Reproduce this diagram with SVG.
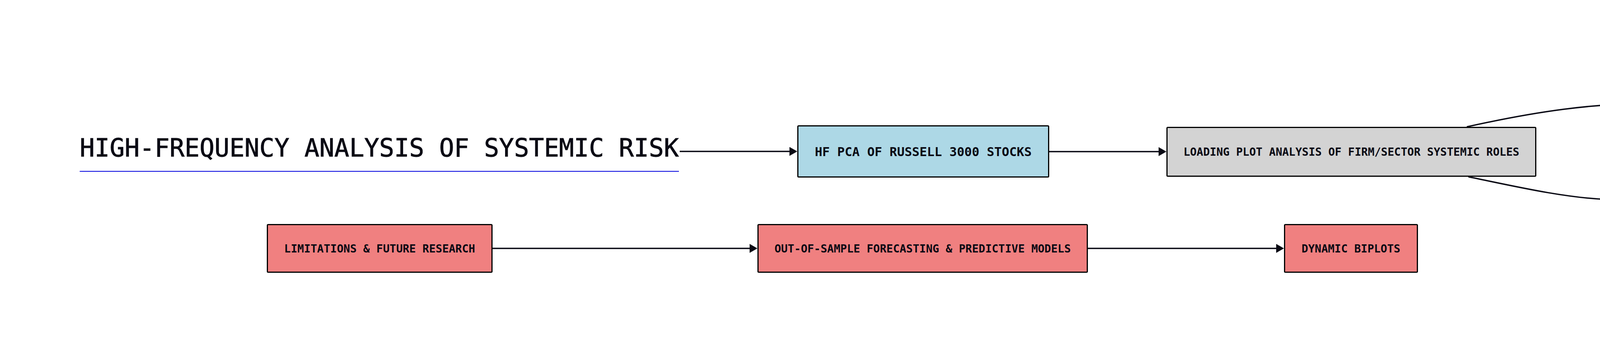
<svg xmlns="http://www.w3.org/2000/svg" width="6006" height="902" viewBox="0 0 6006 902">
<style>
.node rect{stroke:#000;stroke-width:3}
.node text{font-family:"DejaVu Sans Mono","Liberation Mono",monospace;font-weight:bold;font-size:28px;fill:#0a0a14;text-anchor:middle}
.edge{fill:none;stroke:#0a0a14;stroke-width:3.5}
.blue rect{fill:#ADD8E6}
.grey rect{fill:#D3D3D3}
.green rect{fill:#90EE90}
.red rect{fill:#F08080}
</style>
<defs>
<marker id="ah" markerUnits="userSpaceOnUse" markerWidth="20" markerHeight="23" refX="0" refY="11.5" orient="auto">
<path d="M0,0 L20,11.5 L0,23 Z" fill="#0a0a14"/>
</marker>
</defs>
<rect x="0" y="0" width="6006" height="902" fill="#fff"/>
<g id="title">
<text x="204" y="401" font-family="DejaVu Sans Mono, Liberation Mono, monospace" font-size="63.7" fill="#0a0a14" stroke="#0a0a14" stroke-width="1">HIGH-FREQUENCY ANALYSIS OF SYSTEMIC RISK</text>
<line x1="204" y1="439" x2="1738" y2="439" stroke="#0000dd" stroke-width="2"/>
</g>
<g id="connectors">
<path class="edge" marker-end="url(#ah)" d="M1740,388 L2021,388"/>
<path class="edge" marker-end="url(#ah)" d="M2686,388.5 L2966,388.5"/>
<path class="edge" marker-end="url(#ah)" d="M3755,325 C3935,285 4078,265 4228,265"/>
<path class="edge" marker-end="url(#ah)" d="M3759,453 C3876,477 4000,506 4111,511"/>
<path class="edge" marker-end="url(#ah)" d="M4748,447 C4848,419 4954,388 5055,388"/>
<path class="edge" marker-end="url(#ah)" d="M4748,576 C4918,620 5071,634 5223,634"/>
<path class="edge" marker-end="url(#ah)" d="M1261,636.5 L1919,636.5"/>
<path class="edge" marker-end="url(#ah)" d="M2785,636.5 L3267,636.5"/>
</g>
<g id="n_hfpca" class="node blue">
<rect x="2042.5" y="322.5" width="642" height="131" rx="2"/>
<text x="2363.5" y="399.5" style="font-size:31.8px">HF PCA OF RUSSELL 3000 STOCKS</text>
</g>
<g id="n_loading" class="node grey">
<rect x="2987.5" y="326.5" width="944" height="125" rx="2"/>
<text x="3459.5" y="399">LOADING PLOT ANALYSIS OF FIRM/SECTOR SYSTEMIC ROLES</text>
</g>
<g id="n_firm" class="node green">
<rect x="4249.5" y="202" width="506" height="124.5" rx="2"/>
<text x="4502.5" y="274.5">FIRM/SECTOR SYSTEMIC ROLE</text>
</g>
<g id="n_increased" class="node green">
<rect x="4132.5" y="448.5" width="743" height="125" rx="2"/>
<text x="4504" y="521">INCREASED COMOVEMENT &amp; FINANCIAL STRESS</text>
</g>
<g id="n_inter" class="node green">
<rect x="5076.5" y="326.5" width="727" height="125" rx="2"/>
<text x="5440" y="399">INTERCONNECTEDNESS &amp; SHOCK PROPAGATION</text>
</g>
<g id="n_spill" class="node green">
<rect x="5244.5" y="572.5" width="390" height="125" rx="2"/>
<text x="5439.5" y="645">SPILLOVER ANALYSIS</text>
</g>
<g id="n_limits" class="node red">
<rect x="684.5" y="575.5" width="575" height="122" rx="2"/>
<text x="972" y="646.5">LIMITATIONS &amp; FUTURE RESEARCH</text>
</g>
<g id="n_oos" class="node red">
<rect x="1940.5" y="575.5" width="843" height="122" rx="2"/>
<text x="2362" y="646.5">OUT-OF-SAMPLE FORECASTING &amp; PREDICTIVE MODELS</text>
</g>
<g id="n_biplots" class="node red">
<rect x="3288.5" y="575.5" width="340" height="122" rx="2"/>
<text x="3458.5" y="646.5">DYNAMIC BIPLOTS</text>
</g>
</svg>
